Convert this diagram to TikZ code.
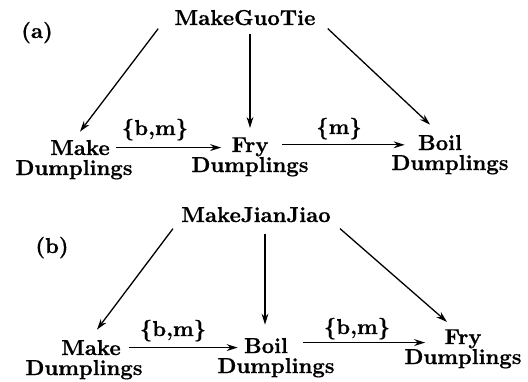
\documentclass[tikz,border=0pt]{standalone}
\usepackage{fontspec}
\setmainfont{Latin Modern Roman}[BoldFeatures={FakeBold=0.6}]
\usetikzlibrary{arrows.meta,calc}
\begin{document}
\begin{tikzpicture}[x=0.5pt,y=-0.5pt,
  font=\fontsize{10.8}{12}\selectfont\bfseries,
  word/.style={inner sep=0pt,anchor=base},
  arr/.style={-{Stealth[length=5.5pt,width=3.4pt]},line width=0.65pt}]
\useasboundingbox (0,0) rectangle (528,381);

% ---------- (a) ----------
\node[word] (la)  at (37,38)   {(a)};
\node[word] (ga)  at (245,25)  {MakeGuoTie};
\node[word] (ma)  at (80,155)  {Make};
\node[word] (mad) at (74,175)  {Dumplings};
\node[word] (fa)  at (250,152) {Fry};
\node[word] (fad) at (250,172) {Dumplings};
\node[word] (ba)  at (440,150) {Boil};
\node[word] (bad) at (450,170) {Dumplings};
\node[word] (ea1) at (155,135) {\{b,m\}};
\node[word] (ea2) at (339,134) {\{m\}};

\draw[arr] ($(ga.south west)+(-16,3)$) -- ($(ma.north)+(0,-8)$);
\draw[arr] ($(ga.south -| fa.north)+(0,8)$) -- ($(fa.north)+(0,-9)$);
\draw[arr] ($(ga.south east)+(12,3)$) -- ($(ba.north)+(-10,-10)$);
\draw[arr] ($(ma.east)+(6,0)$) -- ($(ma.east -| fa.west)+(-10,0)$);
\draw[arr] ($(fa.east)+(13,-2)$) -- ($(fa.east -| ba.west)+(-13,-2)$);

% ---------- (b) ----------
\node[word] (lb)  at (52,253)  {(b)};
\node[word] (gb)  at (256,222) {MakeJianJiao};
\node[word] (mb)  at (91,355)  {Make};
\node[word] (mbd) at (84,375)  {Dumplings};
\node[word] (bb)  at (266,353) {Boil};
\node[word] (bbd) at (276,373) {Dumplings};
\node[word] (fb)  at (463,344) {Fry};
\node[word] (fbd) at (463,364) {Dumplings};
\node[word] (eb1) at (173,336) {\{b,m\}};
\node[word] (eb2) at (357,334) {\{b,m\}};

\draw[arr] ($(gb.south west)+(-8,6)$) -- ($(mb.north)+(6,-10)$);
\draw[arr] ($(gb.south)+(9,11)$) -- ($(bb.north)+(-1,-13)$);
\draw[arr] ($(gb.south east)+(9,6)$) -- ($(fb.north)+(-16,-7)$);
\draw[arr] ($(mb.east)+(8,0)$) -- ($(mb.east -| bb.west)+(-6,0)$);
\draw[arr] ($(bb.east)+(15,-3)$) -- ($(bb.east -| fb.west)+(-19,-3)$);
\end{tikzpicture}
\end{document}
